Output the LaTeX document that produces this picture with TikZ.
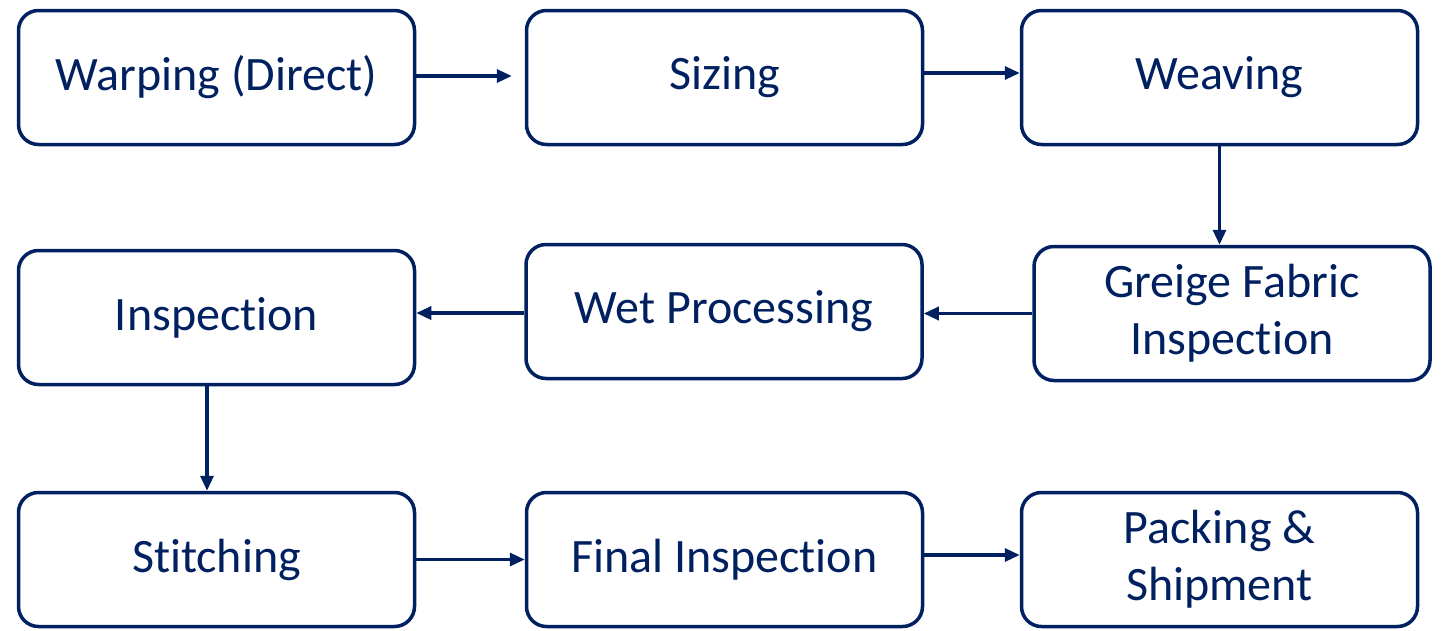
\documentclass[tikz,border=0pt]{standalone}
\usepackage{fontspec}
\setmainfont{Carlito}[RawFeature=-liga]
\usetikzlibrary{arrows.meta}
\definecolor{navy}{HTML}{002060}
\begin{document}
\begin{tikzpicture}[x=1pt,y=-1pt,
  stepbox/.style={draw=navy, line width=3.5pt, rounded corners=20pt,
    minimum width=396pt, minimum height=134pt, inner sep=0pt,
    align=center, text=navy, font=\fontsize{48}{57}\selectfont},
  flow/.style={draw=navy, line width=3.3pt,
    -{Triangle[length=15pt,width=13pt]}}]
\useasboundingbox (0,0) rectangle (1442,630);
% first row
\node[stepbox] (A) at (216.5,77.5) {Warping (Direct)};
\node[stepbox] (B) at (724.5,77.5) {Sizing};
\node[stepbox] (C) at (1219.5,77.5) {Weaving};
% second row
\node[stepbox] (D) at (216.5,317.5) {Inspection};
\node[stepbox] (E) at (724,311.5) {Wet Processing};
\node[stepbox] (F) at (1232,313.5) {Greige Fabric\\Inspection};
% third row
\node[stepbox] (G) at (216.5,559.5) {Stitching};
\node[stepbox] (H) at (724.5,559.5) {Final Inspection};
\node[stepbox] (I) at (1219.5,559.5) {Packing \&\\Shipment};
% connectors
\draw[flow, shorten >=13pt] ([yshift=1.5pt]A.east) -- ([yshift=1.5pt]A.east -| B.west);
\draw[flow] ([yshift=4.5pt]B.east) -- ([yshift=4.5pt]B.east -| C.west);
\draw[flow] (C.south) -- (C.south |- F.north);
\draw[flow] (F.west) -- (F.west -| E.east);
\draw[flow] ([yshift=-1.5pt]E.west) -- ([yshift=-1.5pt]E.west -| D.east);
\draw[flow] ([xshift=-9.5pt]D.south) -- ([xshift=-9.5pt]D.south |- G.north);
\draw[flow] (G.east) -- (G.east -| H.west);
\draw[flow] ([yshift=4.5pt]H.east) -- ([yshift=4.5pt]H.east -| I.west);
\end{tikzpicture}
\end{document}
